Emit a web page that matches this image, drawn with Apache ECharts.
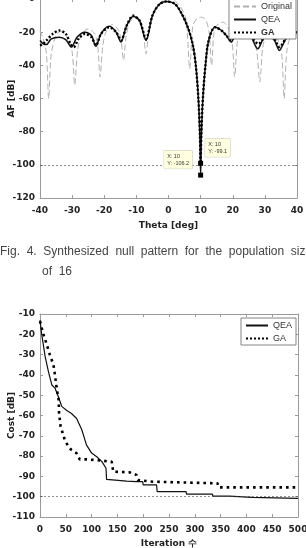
<!DOCTYPE html>
<html>
<head>
<meta charset="utf-8">
<script src="https://cdn.jsdelivr.net/npm/echarts@6/dist/echarts.min.js"></script>
<style>
  html, body { margin: 0; padding: 0; background: #fff; }
  #main { width: 306px; height: 548px; }
</style>
</head>
<body>
<div id="main"></div>
<script>
// Fig. 4 - null pattern (top) and cost convergence (bottom)
var thetaTicks = [-40, 40, 10];
var afTicks = [-120, 0, 20];
var iterTicks = [0, 500, 50];
var costTicks = [-110, -10, 10];

var origTheta = [-40,-39,-38,-37.3,-36.5,-35,-33.5,-31.5,-30,-29.2,-28.3,-27,-25,-23,-22,-21.3,-20.5,-19.5,-17.5,-15.5,-14.7,-14,-13.3,-12.2,-10.5,-9,-7.8,-7,-6.2,-5,-3,-1,0.5,2,4,5.5,6.6,7.6,9,10.3,11.7,12.7,13.4,14.2,15.5,17,18.5,19.8,20.6,21.4,22.5,24.3,26,27.5,28.4,29.3,30.5,32,33.5,35.2,36,36.8,38,40];
var origAF = [-19,-24,-33,-60,-33,-22,-19.5,-23,-32,-52,-31,-21,-18,-21,-29,-47,-29,-20,-15.5,-19,-26,-37,-24,-14.5,-11.5,-14,-22,-33,-21,-10,-3,-0.3,0,-1,-5.5,-13,-42,-16,-11.5,-11,-13,-21,-40,-20,-15,-14,-17,-26,-47,-26,-18,-17,-21,-32,-50,-30,-21,-19.5,-22,-33,-60,-32,-23,-21];

var qeaTheta = [-40,-39,-38,-36.5,-34,-32,-30.2,-28.5,-26,-24,-22.6,-21,-18.5,-16.3,-14.8,-13,-11,-9,-7,-5,-3,-0.7,2,4,6,7.5,8.5,9.3,9.8,10,10.2,10.7,11.5,12.5,14.5,16.5,18,19.5,21,23.5,25.5,27.8,29.5,31,33,34.5,36.5,38,40];
var qeaAF = [-25,-27,-27.5,-24,-23,-24.5,-29,-23,-20,-22,-28.5,-21,-16.5,-20,-26,-16,-10.5,-13,-25,-10,-3.5,-1.5,-3,-8.5,-17,-27,-40,-60,-85,-106.2,-85,-60,-40,-25,-17,-19,-22,-26,-21,-19,-22,-30,-24,-22,-25,-31,-24,-21,-20];

var gaTheta = [-40,-39,-38,-36,-34,-32,-30.5,-29.5,-28,-26,-24,-22.6,-21,-18.5,-16.3,-14.8,-13,-11,-9,-7,-5,-3,-0.7,2,4,6,7.5,8.5,9.3,9.8,10,10.2,10.7,11.5,12.5,14.5,16.5,18,19.5,21,23.5,25.5,28,30,31.5,33,34.5,36.5,38,40];
var gaAF = [-28,-27,-25,-21,-19,-21,-27,-29,-24,-21,-23,-28,-21,-17,-20,-25,-16,-10,-13,-24,-10,-3.5,-1.5,-3,-8.5,-17,-27,-40,-60,-82,-99.1,-82,-60,-40,-25,-17,-19,-22,-25,-21,-19,-22,-27,-23,-22,-24,-29,-24,-21,-20];

var nullTheta = 10;
var qeaNull = -106.2;
var gaNull = -99.1;
var targetLevel = -100;

var qeaIter = [0,3,10,16,23,29,36,42,52,61,71,81,90,100,110,120,128,129,168,187,199,200,226,227,283,284,334,335,367,368,411,412,500];
var qeaCost = [-13,-19.5,-31,-38,-45,-46.5,-51,-55.5,-57.5,-59,-61.5,-67,-74.5,-78.5,-80.3,-82.7,-86,-91.5,-92.3,-92.6,-92.6,-94.2,-94.2,-97.5,-97.5,-98.7,-98.7,-99.7,-99.7,-100.3,-100.3,-100.8,-100.8];

var gaIter = [0,6,13,19,26,29,32,36,37,40,42,48,55,61,71,77,90,110,123,139,142,174,187,190,207,219,222,344,346,500];
var gaCost = [-13.5,-19.5,-25,-30,-35,-40,-46,-52,-59,-65.5,-67,-72,-75.4,-77,-78.6,-81.6,-81.6,-82,-82.3,-82.8,-87.7,-88,-89.3,-91.8,-92.3,-92.6,-93.4,-93.4,-95.4,-95.4];

function pairs(xs, ys) {
    return xs.map(function (x, i) { return [x, ys[i]]; });
}

var FONT = 'DejaVu Sans';
var axisGray = '#9a9a9a';

function mainAxis(grid, ticks, name, gap, isX) {
    return {
        gridIndex: grid, type: 'value',
        min: ticks[0], max: ticks[1], interval: ticks[2],
        name: name, nameLocation: 'middle', nameGap: gap, nameMoveOverlap: false,
        nameTextStyle: { fontFamily: FONT, fontWeight: 'bold', fontSize: 9, color: '#222' },
        axisLine: { show: true, onZero: false, lineStyle: { color: axisGray, width: 1 } },
        axisTick: { show: true, inside: true, length: 3, lineStyle: { color: axisGray } },
        axisLabel: { fontFamily: FONT, fontWeight: 'bold', fontSize: 9, color: '#222', margin: isX ? 8 : 5,
            hideOverlap: false },
        splitLine: { show: false }
    };
}

function mirrorAxis(grid, ticks, pos) {
    return {
        gridIndex: grid, type: 'value', position: pos,
        min: ticks[0], max: ticks[1], interval: ticks[2],
        axisLine: { show: true, onZero: false, lineStyle: { color: axisGray, width: 1 } },
        axisTick: { show: true, inside: true, length: 3, lineStyle: { color: axisGray } },
        axisLabel: { show: false },
        splitLine: { show: false }
    };
}

var tipLabel = {
    show: true, fontFamily: 'Liberation Sans', fontSize: 5.5, lineHeight: 7, color: '#333',
    backgroundColor: '#ffffe0', borderColor: '#c8c8b8', borderWidth: 0.5, padding: [2, 3]
};

var legendBase = {
    orient: 'vertical', right: 10,
    itemWidth: 22, itemHeight: 7, itemGap: 4,
    padding: [3, 4, 2, 4],
    borderColor: '#666', borderWidth: 0.8, backgroundColor: '#fff',
    itemStyle: { opacity: 0 },
    textStyle: { fontFamily: 'Liberation Sans', fontSize: 9, color: '#333' }
};

var myChart = echarts.init(document.getElementById('main'));

var option = {
    animation: false,
    grid: [
        { left: 40, right: 9, top: -1, height: 199, outerBoundsMode: 'none', containLabel: false },
        { left: 40, right: 8, top: 314, height: 203, outerBoundsMode: 'none', containLabel: false }
    ],
    xAxis: [
        mainAxis(0, thetaTicks, 'Theta [deg]', 23, true),
        mirrorAxis(0, thetaTicks, 'top'),
        mainAxis(1, iterTicks, 'Iteration 수', 22, true),
        mirrorAxis(1, iterTicks, 'top')
    ],
    yAxis: [
        mainAxis(0, afTicks, 'AF [dB]', 24, false),
        mirrorAxis(0, afTicks, 'right'),
        mainAxis(1, costTicks, 'Cost [dB]', 24, false),
        mirrorAxis(1, costTicks, 'right')
    ],
    legend: [
        Object.assign({}, legendBase, {
            top: -1,
            data: [{ name: 'Original' }, { name: 'QEA' }, { name: 'GA', textStyle: { fontWeight: 'bold' } }]
        }),
        Object.assign({}, legendBase, {
            top: 318,
            data: ['QEA', 'GA']
        })
    ],
    series: [
        {
            name: 'Original', type: 'line', xAxisIndex: 0, yAxisIndex: 0,
            data: pairs(origTheta, origAF), showSymbol: false, symbol: 'none', smooth: 0.3,
            itemStyle: { color: '#b0b0b0' },
            lineStyle: { color: '#b0b0b0', width: 1, type: [6, 3] }
        },
        {
            name: 'QEA', type: 'line', xAxisIndex: 0, yAxisIndex: 0,
            data: pairs(qeaTheta, qeaAF), showSymbol: false, symbol: 'none', smooth: 0.3,
            itemStyle: { color: '#111' },
            lineStyle: { color: '#111', width: 1.5 },
            markLine: {
                silent: true, symbol: 'none', label: { show: false },
                lineStyle: { color: '#444', width: 0.6, type: [2, 2] },
                data: [{ yAxis: targetLevel }]
            },
            markPoint: {
                symbol: 'rect', symbolSize: 5, itemStyle: { color: '#000', opacity: 1 },
                label: Object.assign({}, tipLabel, {
                    position: [-34, -22],
                    formatter: 'X: ' + nullTheta + '\nY: ' + qeaNull
                }),
                data: [{ coord: [nullTheta, qeaNull] }]
            }
        },
        {
            name: 'GA', type: 'line', xAxisIndex: 0, yAxisIndex: 0,
            data: pairs(gaTheta, gaAF), showSymbol: false, symbol: 'none', smooth: 0.3,
            itemStyle: { color: '#000' },
            lineStyle: { color: '#000', width: 2.4, type: [2, 2] },
            markPoint: {
                symbol: 'rect', symbolSize: 5, itemStyle: { color: '#000', opacity: 1 },
                label: Object.assign({}, tipLabel, {
                    position: [7, -22],
                    formatter: 'X: ' + nullTheta + '\nY: ' + gaNull
                }),
                data: [{ coord: [nullTheta, gaNull] }]
            }
        },
        {
            name: 'QEA', type: 'line', xAxisIndex: 2, yAxisIndex: 2,
            data: pairs(qeaIter, qeaCost), showSymbol: false, symbol: 'none',
            itemStyle: { color: '#111' },
            lineStyle: { color: '#111', width: 1.2 },
            markLine: {
                silent: true, symbol: 'none', label: { show: false },
                lineStyle: { color: '#444', width: 0.6, type: [2, 2] },
                data: [{ yAxis: targetLevel }]
            }
        },
        {
            name: 'GA', type: 'line', xAxisIndex: 2, yAxisIndex: 2,
            data: pairs(gaIter, gaCost), showSymbol: false, symbol: 'none',
            itemStyle: { color: '#000' },
            lineStyle: { color: '#000', width: 2.6, type: [2.6, 4] }
        }
    ],
    graphic: [
        {
            type: 'text', left: 0, top: 246,
            style: {
                text: 'Fig.  4.  Synthesized  null  pattern  for  the  population  size',
                fontFamily: 'Liberation Sans', fontSize: 12, fill: '#444'
            }
        },
        {
            type: 'text', left: 42, top: 266,
            style: { text: 'of  16', fontFamily: 'Liberation Sans', fontSize: 12, fill: '#444' }
        }
    ]
};

myChart.setOption(option);
</script>
</body>
</html>
